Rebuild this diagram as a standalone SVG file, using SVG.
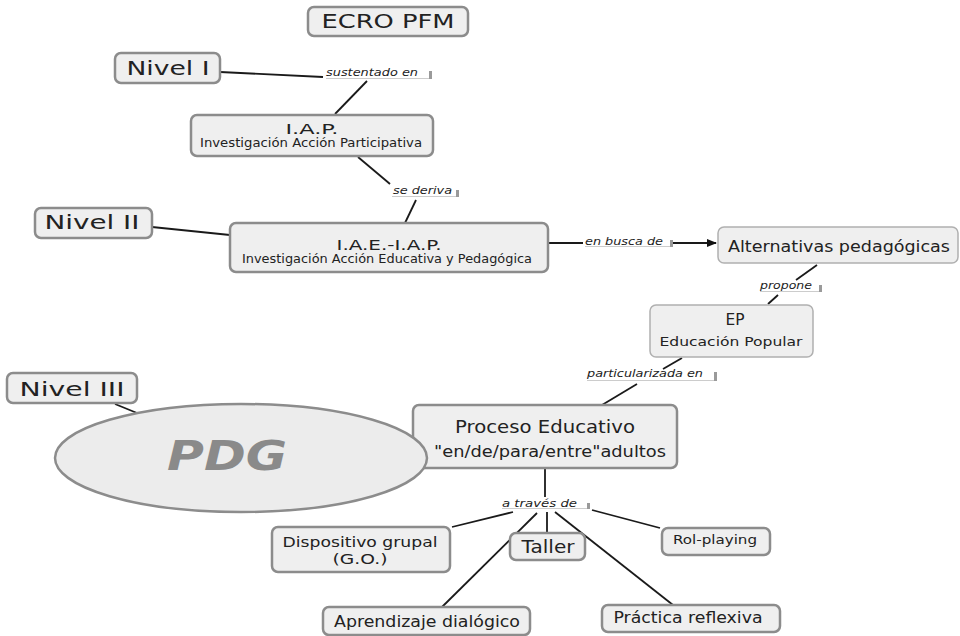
<svg xmlns="http://www.w3.org/2000/svg" width="960" height="636" viewBox="0 0 960 636">
<style>
.box{fill:#efefef;stroke:#8c8c8c;stroke-width:2.5}
.t{font-family:"DejaVu Sans",Verdana,sans-serif;fill:#222;text-anchor:middle}
.lt{font-family:"DejaVu Sans",Verdana,sans-serif;font-style:italic;font-size:11px;fill:#222}
.c{stroke:#1a1a1a;stroke-width:1.8;fill:none}
.sh{fill:#9a9a9a}
</style>
<defs>
<marker id="arr" markerWidth="10" markerHeight="10" refX="9" refY="5" orient="auto" markerUnits="userSpaceOnUse">
<path d="M0,1 L10,5 L0,9 Z" fill="#111"/>
</marker>
</defs>
<rect width="960" height="636" fill="#fff"/>

<g id="connectors">
<line class="c" x1="220" y1="72" x2="323" y2="77"/>
<line class="c" x1="367" y1="81" x2="335" y2="114"/>
<line class="c" x1="358" y1="157" x2="390" y2="184"/>
<line class="c" x1="416" y1="200" x2="405" y2="223"/>
<line class="c" x1="152" y1="227" x2="230" y2="235"/>
<line class="c" x1="548" y1="243" x2="583" y2="243"/>
<line class="c" x1="673" y1="243" x2="716" y2="243" marker-end="url(#arr)"/>
<line class="c" x1="817" y1="265" x2="796" y2="280"/>
<line class="c" x1="778" y1="295" x2="768" y2="304"/>
<line class="c" x1="682" y1="358" x2="663" y2="369"/>
<line class="c" x1="637" y1="384" x2="602" y2="405"/>
<line class="c" x1="115" y1="404" x2="137" y2="413"/>
<line class="c" x1="545" y1="469" x2="545" y2="497"/>
<line class="c" x1="513" y1="512" x2="452" y2="527"/>
<line class="c" x1="537" y1="513" x2="442" y2="607"/>
<line class="c" x1="547" y1="512" x2="547" y2="533"/>
<line class="c" x1="555" y1="512" x2="673" y2="605"/>
<line class="c" x1="592" y1="510" x2="660" y2="528"/>
</g>

<g id="link-labels">
<g id="l-sustentado"><path class="sh" d="M326,79 H432 V71 H429 V78.5 H326 Z"/><text class="lt" x="326" y="76" textLength="92" lengthAdjust="spacingAndGlyphs">sustentado en</text></g>
<g id="l-deriva"><path class="sh" d="M392,197 H459 V190 H456 V196.5 H392 Z"/><text class="lt" x="393" y="194" textLength="59" lengthAdjust="spacingAndGlyphs">se deriva</text></g>
<g id="l-busca"><path class="sh" d="M585,247 H673 V240 H670 V246.5 H585 Z"/><text class="lt" x="585" y="245" textLength="78" lengthAdjust="spacingAndGlyphs">en busca de</text></g>
<g id="l-propone"><path class="sh" d="M760,292 H822 V285 H819 V291.5 H760 Z"/><text class="lt" x="760" y="289" textLength="52" lengthAdjust="spacingAndGlyphs">propone</text></g>
<g id="l-particularizada"><path class="sh" d="M587,381 H717 V372 H714 V380.5 H587 Z"/><text class="lt" x="587" y="377" textLength="116" lengthAdjust="spacingAndGlyphs">particularizada en</text></g>
<g id="l-traves"><path class="sh" d="M502,509 H590 V503 H587 V508.5 H502 Z"/><text class="lt" x="502" y="507" textLength="75" lengthAdjust="spacingAndGlyphs">a través de</text></g>
</g>

<g id="ecro"><rect class="box" x="308" y="7" width="160" height="29" rx="6"/><text class="t" x="388" y="28" font-size="20" textLength="133" lengthAdjust="spacingAndGlyphs">ECRO PFM</text></g>
<g id="nivel1"><rect class="box" x="115" y="53" width="105" height="30" rx="6"/><text class="t" x="168" y="75" font-size="19" textLength="83" lengthAdjust="spacingAndGlyphs">Nivel I</text></g>
<g id="iap"><rect class="box" x="191" y="115" width="242" height="41" rx="6"/><text class="t" x="312" y="134" font-size="14" textLength="53" lengthAdjust="spacingAndGlyphs">I.A.P.</text><text class="t" x="311" y="147" font-size="11.5" textLength="222" lengthAdjust="spacingAndGlyphs">Investigación Acción Participativa</text></g>
<g id="nivel2"><rect class="box" x="35" y="208" width="117" height="30" rx="6"/><text class="t" x="92" y="229" font-size="19" textLength="95" lengthAdjust="spacingAndGlyphs">Nivel II</text></g>
<g id="iae"><rect class="box" x="230" y="223" width="318" height="49" rx="6"/><text class="t" x="389" y="250" font-size="14" textLength="105" lengthAdjust="spacingAndGlyphs">I.A.E.-I.A.P.</text><text class="t" x="387" y="263" font-size="11.5" textLength="290" lengthAdjust="spacingAndGlyphs">Investigación Acción Educativa y Pedagógica</text></g>
<g id="alternativas"><rect class="box" x="718" y="227" width="240" height="36" rx="6" style="stroke:#b0b0b0;stroke-width:1.5"/><text class="t" x="839" y="252" font-size="16" textLength="222" lengthAdjust="spacingAndGlyphs">Alternativas  pedagógicas</text></g>
<g id="ep"><rect class="box" x="650" y="305" width="163" height="52" rx="6" style="stroke:#b0b0b0;stroke-width:1.5"/><text class="t" x="735" y="325" font-size="16" textLength="19" lengthAdjust="spacingAndGlyphs">EP</text><text class="t" x="731" y="346" font-size="13" textLength="143" lengthAdjust="spacingAndGlyphs">Educación  Popular</text></g>
<g id="nivel3"><rect class="box" x="7" y="373" width="130" height="30" rx="6"/><text class="t" x="72" y="396" font-size="19" textLength="105" lengthAdjust="spacingAndGlyphs">Nivel III</text></g>
<g id="proceso"><rect class="box" x="413" y="405" width="264" height="63" rx="6"/><text class="t" x="545" y="433" font-size="17" textLength="180" lengthAdjust="spacingAndGlyphs">Proceso  Educativo</text><text class="t" x="550" y="457" font-size="16" textLength="232" lengthAdjust="spacingAndGlyphs">"en/de/para/entre"adultos</text></g>
<g id="pdg"><ellipse cx="241" cy="458" rx="186" ry="54" fill="#ececec" stroke="#8c8c8c" stroke-width="2.5"/><text class="t" x="227" y="470" font-size="40" font-weight="bold" font-style="italic" style="fill:#8a8a8a" textLength="120" lengthAdjust="spacingAndGlyphs">PDG</text></g>
<g id="dispositivo"><rect class="box" x="272" y="527" width="178" height="45" rx="6"/><text class="t" x="360" y="547" font-size="14" textLength="155" lengthAdjust="spacingAndGlyphs">Dispositivo grupal</text><text class="t" x="360" y="564" font-size="14" textLength="55" lengthAdjust="spacingAndGlyphs">(G.O.)</text></g>
<g id="taller"><rect class="box" x="510" y="533" width="75" height="27" rx="6"/><text class="t" x="548" y="553" font-size="17" textLength="53" lengthAdjust="spacingAndGlyphs">Taller</text></g>
<g id="rolplaying"><rect class="box" x="662" y="528" width="108" height="27" rx="6"/><text class="t" x="715" y="544" font-size="13" textLength="84" lengthAdjust="spacingAndGlyphs">Rol-playing</text></g>
<g id="aprendizaje"><rect class="box" x="323" y="607" width="207" height="28" rx="6"/><text class="t" x="427" y="627" font-size="16" textLength="186" lengthAdjust="spacingAndGlyphs">Aprendizaje dialógico</text></g>
<g id="practica"><rect class="box" x="602" y="605" width="178" height="27" rx="6"/><text class="t" x="688" y="623" font-size="16" textLength="149" lengthAdjust="spacingAndGlyphs">Práctica reflexiva</text></g>
</svg>
